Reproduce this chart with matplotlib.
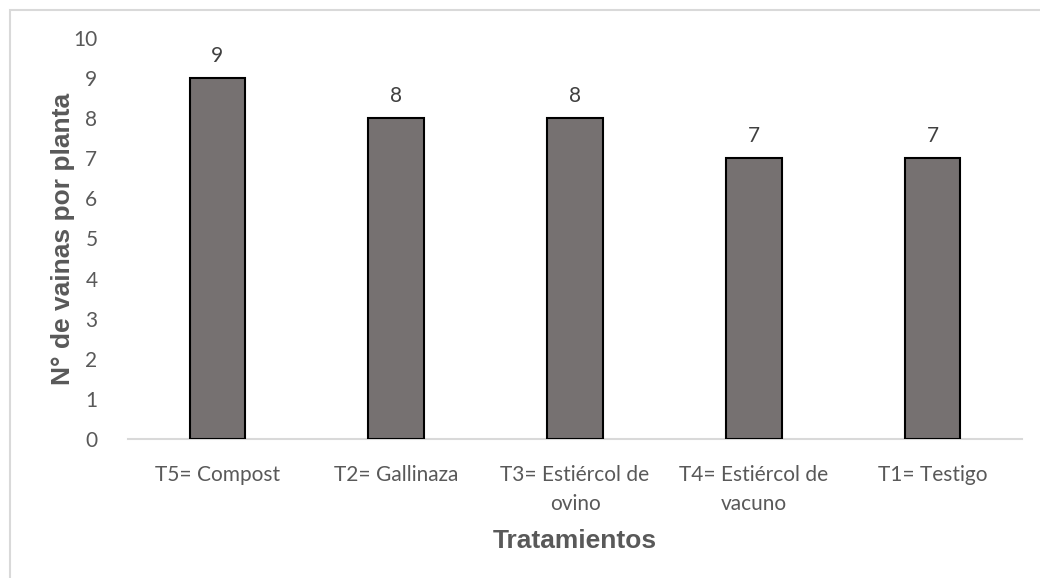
import matplotlib
matplotlib.use("Agg")
import matplotlib.pyplot as plt
from matplotlib.patches import Rectangle

# Número de vainas por planta según tratamiento
tratamientos = [
    "T5= Compost",
    "T2= Gallinaza",
    "T3= Estiércol de\novino",
    "T4= Estiércol de\nvacuno",
    "T1= Testigo",
]
vainas = [9, 8, 8, 7, 7]
y_ticks = list(range(0, 11))

TEXT_GRAY = "#595959"
BAR_COLOR = "#767171"
tick_font = ["Lato", "DejaVu Sans"]
label_font = ["Liberation Sans", "DejaVu Sans"]

fig = plt.figure(figsize=(10.4, 5.78), dpi=100)
ax = fig.add_axes([128 / 1040, 1 - 439 / 578, 894 / 1040, 401 / 578])

x = list(range(len(tratamientos)))
bars = ax.bar(x, vainas, width=0.31, color=BAR_COLOR, edgecolor="black",
              linewidth=1.5, zorder=3)

for rect, v in zip(bars, vainas):
    ax.text(rect.get_x() + rect.get_width() / 2, v + 0.3, f"{v}",
            ha="center", va="bottom", fontsize=15, color="#404040",
            family=tick_font)

ax.set_xlim(-0.5, len(tratamientos) - 0.5)
ax.set_ylim(0, 10)
ax.set_yticks(y_ticks)
ax.set_xticks(x)
ax.set_xticklabels(tratamientos, family=tick_font, fontsize=15,
                   color=TEXT_GRAY, linespacing=1.55, va="top")
for lbl in ax.get_yticklabels():
    lbl.set_family(tick_font)
    lbl.set_fontsize(15)
    lbl.set_color(TEXT_GRAY)

ax.tick_params(axis="both", length=0)
ax.tick_params(axis="y", pad=22)
ax.tick_params(axis="x", pad=19)
for side in ("top", "right", "left"):
    ax.spines[side].set_visible(False)
ax.spines["bottom"].set_color("#D9D9D9")
ax.spines["bottom"].set_linewidth(1.5)

ax.set_ylabel("N° de vainas por planta", family=label_font, fontsize=19,
              fontweight="bold", color=TEXT_GRAY, labelpad=-1)
ax.set_xlabel("Tratamientos", family=label_font, fontsize=19,
              fontweight="bold", color=TEXT_GRAY, labelpad=11)

# marco exterior del gráfico
fig.patches.append(Rectangle((9.5 / 1040, -0.1), 1.2, 1.1 - 9.5 / 578,
                             transform=fig.transFigure, fill=False,
                             edgecolor="#D9D9D9", linewidth=1.5))

fig.savefig("out.png", dpi=100)
